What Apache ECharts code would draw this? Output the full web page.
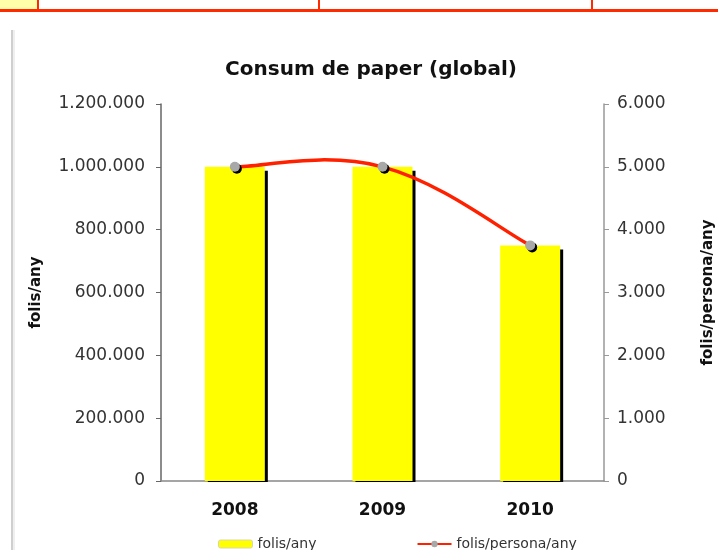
<!DOCTYPE html>
<html>
<head>
<meta charset="utf-8">
<script src="https://cdn.jsdelivr.net/npm/echarts@6/dist/echarts.min.js"></script>
<style>html,body{margin:0;padding:0;background:#fff}#c{width:718px;height:550px}</style>
</head>
<body>
<div id="c"></div>
<script>
var categories = ['2008', '2009', '2010'];
var folisAny = [1000000, 1000000, 750000];
var folisPersonaAny = [5000, 5000, 3750];
var leftTicks = {min: 0, max: 1200000, interval: 200000};
var rightTicks = {min: 0, max: 6000, interval: 1000};

function fmt(v) {
  return String(v).replace(/\B(?=(\d{3})+(?!\d))/g, '.');
}

// Spreadsheet-style smoothed curve through the data points (positions come from api.coord)
function renderCurve(params, api) {
  if (params.dataIndex !== 0) return null;
  var pts = [];
  for (var i = 0; i < folisPersonaAny.length; i++) {
    pts.push(api.coord([i, folisPersonaAny[i]]));
  }
  var t = 0.2;
  var path = 'M' + pts[0][0] + ',' + pts[0][1];
  for (var j = 0; j < pts.length - 1; j++) {
    var p0 = pts[j - 1] || pts[j];
    var p1 = pts[j];
    var p2 = pts[j + 1];
    var p3 = pts[j + 2] || pts[j + 1];
    var c1x = p1[0] + (p2[0] - p0[0]) * t, c1y = p1[1] + (p2[1] - p0[1]) * t;
    var c2x = p2[0] - (p3[0] - p1[0]) * t, c2y = p2[1] - (p3[1] - p1[1]) * t;
    path += ' C' + c1x + ',' + c1y + ' ' + c2x + ',' + c2y + ' ' + p2[0] + ',' + p2[1];
  }
  return {
    type: 'path',
    shape: {pathData: path},
    style: {fill: null, stroke: '#ff2000', lineWidth: 3.5, lineCap: 'round', lineJoin: 'round'}
  };
}

var chart = echarts.init(document.getElementById('c'), null, {renderer: 'canvas'});
var FONT = 'DejaVu Sans';
chart.setOption({
  backgroundColor: '#ffffff',
  animation: false,
  textStyle: {fontFamily: FONT},
  graphic: [
    {type: 'rect', shape: {x: 0, y: 0, width: 37, height: 9}, style: {fill: '#ffffaa'}, silent: true},
    {type: 'rect', shape: {x: 0, y: 9, width: 718, height: 3}, style: {fill: '#ff2a00'}, silent: true},
    {type: 'rect', shape: {x: 37, y: 0, width: 2, height: 10}, style: {fill: '#ff2a00'}, silent: true},
    {type: 'rect', shape: {x: 318, y: 0, width: 2, height: 10}, style: {fill: '#ff2a00'}, silent: true},
    {type: 'rect', shape: {x: 591, y: 0, width: 2, height: 10}, style: {fill: '#ff2a00'}, silent: true},
    {type: 'rect', shape: {x: 11, y: 30, width: 2, height: 520}, style: {fill: '#cfcfcf'}, silent: true},
    {type: 'rect', shape: {x: 13, y: 30, width: 2, height: 520}, style: {fill: '#efefef'}, silent: true},
    {type: 'rect', shape: {x: 162, y: 482, width: 440, height: 8}, style: {fill: '#ffffff'}, silent: true, z: 50}
  ],
  title: {
    text: 'Consum de paper (global)',
    left: 366, top: 55, textAlign: 'center',
    textStyle: {fontFamily: FONT, fontSize: 20, fontWeight: 'bold', color: '#111'}
  },
  legend: {
    left: 213, top: 532,
    itemWidth: 34, itemHeight: 8, itemGap: 100,
    textStyle: {fontFamily: FONT, fontSize: 14, color: '#333'},
    data: [
      {name: 'folis/any', itemStyle: {color: '#ffff00', borderColor: '#d8d8b0', borderWidth: 1, shadowBlur: 0, shadowOffsetX: 0, shadowOffsetY: 0}},
      {name: 'folis/persona/any', lineStyle: {color: '#ff2000', width: 2, opacity: 1}, itemStyle: {color: '#a8a8a8', shadowOffsetX: 0, shadowOffsetY: 0}}
    ]
  },
  grid: {left: 161, right: 114, top: 104, bottom: 69, containLabel: false, outerBoundsMode: 'none'},
  xAxis: {
    type: 'category',
    data: categories,
    axisLine: {lineStyle: {color: '#888', width: 1.5}},
    axisTick: {show: false},
    axisLabel: {fontFamily: FONT, fontSize: 17, fontWeight: 'bold', color: '#111', margin: 21}
  },
  yAxis: [
    {
      type: 'value', position: 'left',
      min: leftTicks.min, max: leftTicks.max, interval: leftTicks.interval,
      name: 'folis/any', nameLocation: 'middle', nameGap: 117, nameRotate: 90,
      nameTextStyle: {fontFamily: FONT, fontSize: 15, fontWeight: 'bold', color: '#111'},
      axisLine: {show: true, lineStyle: {color: '#666', width: 1.5}},
      axisTick: {show: true, length: 5, lineStyle: {color: '#666'}},
      splitLine: {show: false},
      axisLabel: {fontFamily: FONT, fontSize: 17, color: '#333', margin: 16, formatter: fmt}
    },
    {
      type: 'value', position: 'right',
      min: rightTicks.min, max: rightTicks.max, interval: rightTicks.interval,
      name: 'folis/persona/any', nameLocation: 'middle', nameGap: 97, nameRotate: 90,
      nameTextStyle: {fontFamily: FONT, fontSize: 15, fontWeight: 'bold', color: '#111'},
      axisLine: {show: true, lineStyle: {color: '#999', width: 1.5}},
      axisTick: {show: true, length: 5, lineStyle: {color: '#999'}},
      splitLine: {show: false},
      axisLabel: {fontFamily: FONT, fontSize: 17, color: '#333', margin: 13, formatter: fmt}
    }
  ],
  series: [
    {
      name: 'folis/any', type: 'bar', yAxisIndex: 0,
      data: folisAny, barWidth: 60,
      itemStyle: {
        color: '#ffff00',
        shadowColor: '#000', shadowBlur: 0, shadowOffsetX: 3, shadowOffsetY: 4
      }
    },
    {
      name: 'folis/persona/any (curve)', type: 'custom', yAxisIndex: 1,
      data: folisPersonaAny, renderItem: renderCurve, z: 4, silent: true
    },
    {
      name: 'folis/persona/any', type: 'line', yAxisIndex: 1,
      data: folisPersonaAny,
      symbol: 'circle', symbolSize: 10,
      lineStyle: {color: '#ff2000', width: 0, opacity: 0},
      itemStyle: {color: '#a8a8a8', borderWidth: 0, shadowColor: '#000', shadowBlur: 0, shadowOffsetX: 2, shadowOffsetY: 2},
      z: 5
    }
  ]
});
</script>
</body>
</html>
